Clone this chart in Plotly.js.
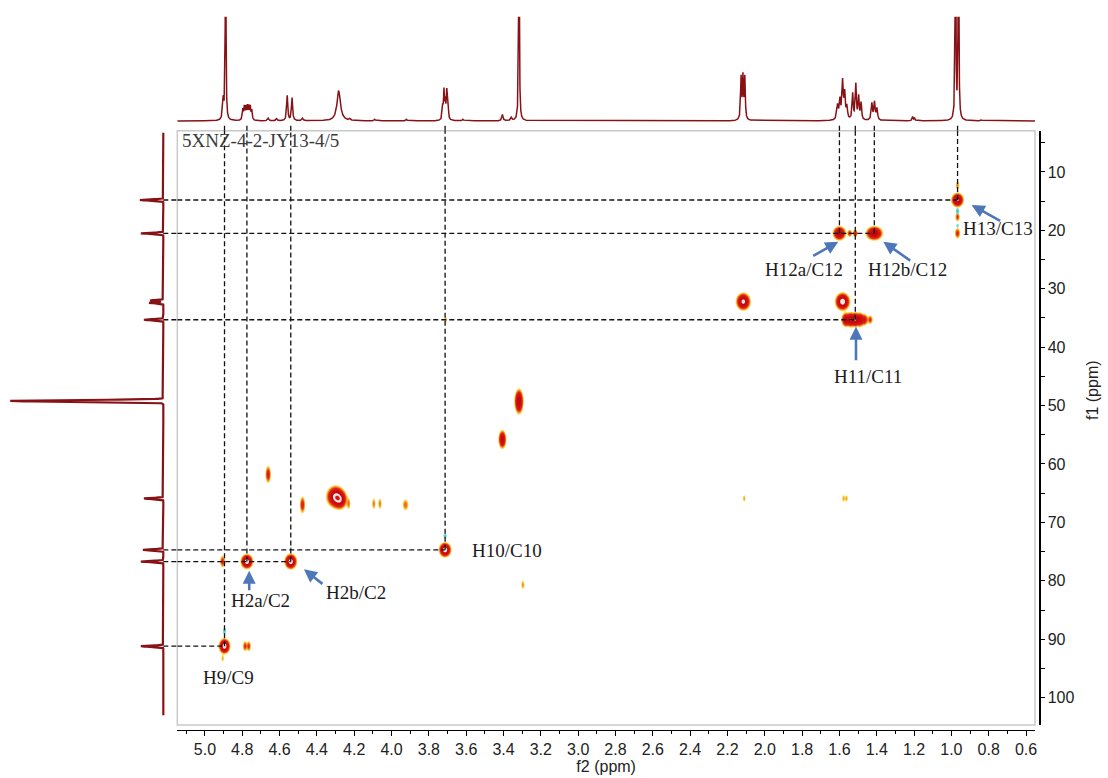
<!DOCTYPE html>
<html>
<head>
<meta charset="utf-8">
<script src="https://cdn.plot.ly/plotly-3.0.1.min.js"></script>
<style>
  html, body { margin: 0; padding: 0; background: #ffffff; }
  #chart { width: 1108px; height: 778px; }
</style>
</head>
<body>
<div id="chart"></div>
<script>
// ---------- 1H spectrum (f2 projection): line positions (ppm), heights, half-widths (ppm)
const protonShift  = [4.902, 4.889, 4.797, 4.789, 4.781, 4.773, 4.765, 4.757, 4.749, 4.661, 4.616,
                      4.559, 4.533, 4.477, 4.283, 4.224, 4.090, 3.920, 3.726, 3.719, 3.712, 3.704,
                      3.697, 3.617, 3.406, 3.358, 3.317, 2.127, 2.117, 2.107, 1.610, 1.597, 1.583,
                      1.572, 1.560, 1.529, 1.512, 1.497, 1.484, 1.426, 1.412, 1.399, 1.208, 1.198,
                      0.978, 0.962, 0.840];
const protonHeight = [20, 250, 10, 12, 11, 12, 12, 12, 9, 2.5, 2,
                      24, 22, 2.5, 29, 1.5, 1.5, 1.5, 12, 27, 16, 27,
                      12, 1.5, 6, 3, 250, 40, 40, 40, 14, 18, 36,
                      24, 12, 25, 34, 22, 16, 16, 17, 11, 4, 3,
                      250, 250, 1];
const protonWidth  = [0.004, 0.0018, 0.003, 0.003, 0.003, 0.003, 0.003, 0.003, 0.003, 0.004, 0.004,
                      0.0035, 0.0035, 0.004, 0.011, 0.004, 0.004, 0.004, 0.0028, 0.0028, 0.0028, 0.0028,
                      0.0028, 0.004, 0.004, 0.004, 0.002, 0.003, 0.003, 0.003, 0.005, 0.004, 0.004,
                      0.004, 0.004, 0.0035, 0.0035, 0.0035, 0.0035, 0.004, 0.004, 0.004, 0.003, 0.003,
                      0.002, 0.002, 0.004];

// ---------- 13C projection (f1): shifts (ppm), intensities, line widths (ppm)
const carbonShift  = [14.8, 20.5, 32.0, 32.4, 35.3, 49.2, 65.9, 74.7, 76.7, 91.2];
const carbonHeight = [23, 22, 13, 14, 19, 150, 19, 20, 22, 22];
const carbonWidth  = [0.1, 0.1, 0.09, 0.09, 0.1, 0.14, 0.1, 0.1, 0.1, 0.1];

// ---------- HSQC cross-peaks (positive phase): f2 (ppm), f1 (ppm), intensity, widths (ppm)
const peakH  = [4.895, 4.775, 4.540, 3.713, 4.300, 4.278, 0.967, 1.600, 1.545, 1.515, 1.413,
                1.583, 2.115, 1.565, 1.540, 1.515, 1.490, 1.465, 1.435, 3.317, 3.406,
                4.661, 4.477, 4.230, 4.095, 4.062, 3.925, 3.296, 4.905, 4.785, 4.765, 4.905,
                2.110, 1.578, 1.562, 3.710, 0.967, 0.967, 0.967];
const peakC  = [91.2, 76.7, 76.7, 74.7, 65.6, 66.1, 14.8, 20.5, 20.5, 20.5, 20.5,
                32.2, 32.2, 35.3, 35.3, 35.3, 35.3, 35.3, 35.3, 49.3, 55.8,
                61.8, 67.0, 66.8, 66.8, 66.8, 67.0, 80.7, 76.7, 91.2, 91.2, 93.3,
                65.9, 65.9, 65.9, 35.3, 12.3, 17.7, 20.5];
const peakI  = [12, 12, 12, 12, 10, 8, 9, 8, 2, 2.5, 8,
                12, 10, 6, 8, 8, 6, 2.5, 1.5, 8, 6,
                2.2, 2.0, 0.9, 0.9, 0.9, 1.0, 0.8, 1.8, 1.5, 1.5, 0.6,
                0.7, 0.7, 0.7, 0.7, 0.9, 1.5, 1.8];
const peakWH = [0.0115, 0.0125, 0.0125, 0.0125, 0.019, 0.016, 0.013, 0.014, 0.006, 0.006, 0.018,
                0.015, 0.015, 0.010, 0.010, 0.010, 0.010, 0.009, 0.007, 0.0095, 0.0085,
                0.007, 0.007, 0.0055, 0.0055, 0.0055, 0.009, 0.0055, 0.007, 0.006, 0.006, 0.005,
                0.0045, 0.0045, 0.0045, 0.0045, 0.006, 0.006, 0.007];
const peakWC = [0.50, 0.48, 0.50, 0.48, 0.72, 0.66, 0.48, 0.48, 0.3, 0.3, 0.48,
                0.58, 0.58, 0.50, 0.50, 0.50, 0.50, 0.45, 0.38, 0.85, 0.65,
                0.70, 0.70, 0.55, 0.55, 0.55, 0.55, 0.45, 0.50, 0.45, 0.45, 0.40,
                0.38, 0.38, 0.38, 0.38, 0.40, 0.40, 0.45];

// ---------- HSQC cross-peaks (negative phase)
const negH  = [4.895, 3.713, 4.540, 0.967, 0.967];
const negC  = [88.6, 72.3, 74.5, 16.7, 19.2];
const negI  = [0.8, 0.8, 0.5, 0.9, 0.5];
const negWH = [0.006, 0.006, 0.005, 0.006, 0.006];
const negWC = [0.35, 0.30, 0.30, 0.35, 0.30];

// ---------- assignments
const assignLabel = ['H9/C9', 'H2a/C2', 'H2b/C2', 'H10/C10', 'H12a/C12', 'H11/C11', 'H12b/C12', 'H13/C13'];
const assignH     = [4.895, 4.775, 4.540, 3.713, 1.600, 1.515, 1.413, 0.967];
const assignC     = [91.2, 76.7, 76.7, 74.7, 20.5, 35.3, 20.5, 14.8];

const sampleName = '5XNZ-4-2-JY13-4/5';

// ---------- axis ranges
const f2Range = [5.148, 0.552];
const f1Range = [104.69, 2.93];

// ---------- label placement (pixels from the assigned peak: right, down)
const labelOffset = {
  'H9/C9':    [4, 31],
  'H2a/C2':   [14, 38.5],
  'H2b/C2':   [65.5, 31],
  'H10/C10':  [62, 1],
  'H12a/C12': [-35, 36],
  'H11/C11':  [13, 57],
  'H12b/C12': [33, 35.7],
  'H13/C13':  [40, 28]
};
// arrow head and tail (pixels from the assigned peak: right, down)
const arrowPath = {
  'H2a/C2':   [2.3, 9.2, 2.3, 30.2],
  'H2b/C2':   [13.2, 7.8, 33.2, 23.5],
  'H12a/C12': [-1.1, 8.4, -27.7, 23.4],
  'H11/C11':  [0.7, 6.9, 0.7, 41.9],
  'H12b/C12': [9, 8.4, 37.4, 28.4],
  'H13/C13':  [14.1, 5, 44.1, 21.7]
};

// ---------- line shapes
function lorentzSum(grid, pos, hgt, wid) {
  return grid.map(v => {
    let s = 0;
    for (let k = 0; k < pos.length; k++) {
      const d = (v - pos[k]) / wid[k];
      s += hgt[k] / (1 + d * d);
    }
    return s;
  });
}
function gaussSum(grid, pos, hgt, wid) {
  return grid.map(v => {
    let s = 0;
    for (let k = 0; k < pos.length; k++) {
      const d = (v - pos[k]) / wid[k];
      s += hgt[k] * Math.exp(-0.5 * d * d);
    }
    return s;
  });
}

// 1H trace
const hGrid = [];
for (let i = 0; ; i++) {
  const v = f2Range[1] + i * 0.0005;
  if (v > f2Range[0]) break;
  hGrid.push(+v.toFixed(4));
}
const hSpec = lorentzSum(hGrid, protonShift, protonHeight, protonWidth);

// 13C projection trace
const cGrid = [];
for (let i = 0; ; i++) {
  const v = 3.3 + i * 0.02;
  if (v > 103) break;
  cGrid.push(+v.toFixed(3));
}
const cSpec = gaussSum(cGrid, carbonShift, carbonHeight, carbonWidth);

// 2D grid for the contour map
const gx = [], gy = [];
for (let i = 0; ; i++) { const v = f2Range[1] + i * 0.005; if (v > f2Range[0]) break; gx.push(+v.toFixed(4)); }
for (let j = 0; ; j++) { const v = f1Range[1] + j * 0.2; if (v > f1Range[0]) break; gy.push(+v.toFixed(3)); }

function gaussMap(ph, pc, pi, wh, wc) {
  const z = gy.map(() => new Float64Array(gx.length));
  for (let k = 0; k < ph.length; k++) {
    const i0 = Math.max(0, Math.floor((ph[k] - 5 * wh[k] - gx[0]) / 0.005));
    const i1 = Math.min(gx.length - 1, Math.ceil((ph[k] + 5 * wh[k] - gx[0]) / 0.005));
    const j0 = Math.max(0, Math.floor((pc[k] - 5 * wc[k] - gy[0]) / 0.2));
    const j1 = Math.min(gy.length - 1, Math.ceil((pc[k] + 5 * wc[k] - gy[0]) / 0.2));
    for (let j = j0; j <= j1; j++) {
      const dy = (gy[j] - pc[k]) / wc[k];
      for (let i = i0; i <= i1; i++) {
        const dx = (gx[i] - ph[k]) / wh[k];
        z[j][i] += pi[k] * Math.exp(-0.5 * (dx * dx + dy * dy));
      }
    }
  }
  return z.map(row => Array.from(row, v => Math.log(Math.max(v, 1e-4))));
}
const zPos = gaussMap(peakH, peakC, peakI, peakWH, peakWC);
const zNeg = gaussMap(negH, negC, negI, negWH, negWC);

// contour levels in ln(intensity)
const lvStart = Math.log(0.22), lvSize = 0.4, nLevels = 12;
const bandColors = [
  'rgba(255,255,255,0)', 'rgb(250,230,115)', 'rgb(248,204,75)', 'rgb(244,160,48)',
  'rgb(236,100,34)', 'rgb(224,42,24)', 'rgb(220,26,20)', 'rgb(214,20,18)',
  'rgb(202,12,14)', 'rgb(196,10,12)', 'rgb(255,228,228)', 'rgb(210,22,20)', 'rgb(255,255,255)'
];
const posScale = bandColors.map((c, k) => [k / nLevels, c]);

const negColors = ['rgba(255,255,255,0)', 'rgb(125,215,205)', 'rgb(70,190,160)'];
const negScale = negColors.map((c, k) => [k / 2, c]);

const traces = [
  {
    type: 'contour', x: gx, y: gy, z: zPos, xaxis: 'x', yaxis: 'y',
    autocontour: false,
    contours: { start: lvStart, end: lvStart + (nLevels - 1) * lvSize, size: lvSize, coloring: 'fill', showlines: false },
    colorscale: posScale, showscale: false, hoverinfo: 'skip', line: { width: 0 }
  },
  {
    type: 'contour', x: gx, y: gy, z: zNeg, xaxis: 'x', yaxis: 'y',
    autocontour: false,
    contours: { start: Math.log(0.25), end: Math.log(0.25) + 1, size: 1, coloring: 'fill', showlines: false },
    colorscale: negScale, showscale: false, hoverinfo: 'skip', line: { width: 0 }
  },
  {
    type: 'scatter', mode: 'lines', x: hGrid, y: hSpec, xaxis: 'x', yaxis: 'y2',
    line: { color: 'rgb(135,18,22)', width: 1.5 }, hoverinfo: 'skip'
  },
  {
    type: 'scatter', mode: 'lines', x: cSpec, y: cGrid, xaxis: 'x3', yaxis: 'y',
    line: { color: 'rgb(135,18,22)', width: 2.2 }, hoverinfo: 'skip'
  }
];

// dashed guide lines from the assigned peaks
const dash = { color: '#111111', width: 1.3, dash: '5px,3px' };
const shapes = [
  { type: 'rect', xref: 'paper', yref: 'paper', x0: 0.16002, x1: 0.93412, y0: 0.06812, y1: 0.83201,
    line: { color: '#c9c9c9', width: 1.5 }, fillcolor: 'rgba(0,0,0,0)', layer: 'above' }
];
assignH.forEach((h, k) => {
  shapes.push({ type: 'line', xref: 'x', yref: 'y', x0: h, x1: h, y0: assignC[k], y1: f1Range[1], line: dash });
  shapes.push({ type: 'line', xref: 'x', yref: 'paper', x0: h, x1: h, y0: 0.83201, y1: 0.8419, line: dash });
});
const uniqueC = [...new Set(assignC)];
uniqueC.forEach(c => {
  const ends = assignH.filter((h, k) => assignC[k] === c);
  const hEnd = Math.min(...ends);
  shapes.push({ type: 'line', xref: 'x', yref: 'y', x0: f2Range[0], x1: hEnd, y0: c, y1: c, line: dash });
  shapes.push({ type: 'line', xref: 'x3', yref: 'y', x0: 0, x1: -13.7, y0: c, y1: c, line: dash });
});

const labelFont = { family: 'Liberation Serif, Times New Roman, serif', size: 19, color: '#1b1b1b' };
const tickFont = { family: 'Liberation Sans Narrow, Arial Narrow, Liberation Sans, Arial, sans-serif', size: 16, color: '#222222' };
const annotations = [];
assignLabel.forEach((lab, k) => {
  const off = labelOffset[lab];
  annotations.push({
    x: assignH[k], y: assignC[k], xref: 'x', yref: 'y', text: lab, showarrow: false,
    xshift: off[0], yshift: -off[1], xanchor: 'center', yanchor: 'middle', font: labelFont
  });
  const a = arrowPath[lab];
  if (a) {
    annotations.push({
      x: assignH[k], y: assignC[k], xref: 'x', yref: 'y', text: '', showarrow: true,
      xshift: a[0], yshift: -a[1], ax: a[2] - a[0], ay: a[3] - a[1], axref: 'pixel', ayref: 'pixel',
      arrowcolor: '#4d77b8', arrowwidth: 2.6, arrowhead: 2, arrowsize: 1, standoff: 0, startstandoff: 0
    });
  }
});
annotations.push({
  xref: 'paper', yref: 'paper', x: 180 / 1108, y: (778 - 140) / 778, xanchor: 'left', yanchor: 'middle',
  text: sampleName, showarrow: false,
  font: { family: 'Liberation Serif, Times New Roman, serif', size: 19, color: '#3a3a3a' }
});
// f1 axis title, drawn as rotated text beside the tick labels
annotations.push({
  xref: 'paper', yref: 'paper', x: 1093 / 1108, y: (778 - 390) / 778, xanchor: 'center', yanchor: 'middle',
  text: 'f1 (ppm)', textangle: -90, showarrow: false, font: tickFont
});

const layout = {
  width: 1108, height: 778,
  margin: { l: 0, r: 0, t: 0, b: 0 },
  paper_bgcolor: '#ffffff', plot_bgcolor: 'rgba(0,0,0,0)',
  showlegend: false,
  xaxis: {
    domain: [0.16002, 0.93412], range: f2Range, anchor: 'free', position: 0.0617,
    tickmode: 'linear', tick0: 0, dtick: 0.2, tickformat: '.1f',
    ticks: 'outside', ticklen: 5, tickwidth: 1, tickcolor: '#000',
    minor: { tick0: 0, dtick: 0.1, ticks: 'outside', ticklen: 3, tickcolor: '#000', showgrid: false },
    showline: true, linecolor: '#000', linewidth: 1.2,
    showgrid: false, zeroline: false, tickfont: tickFont,
    title: { text: 'f2 (ppm)', font: tickFont, standoff: 2 }
  },
  yaxis: {
    domain: [0.06812, 0.83201], range: f1Range, side: 'right', anchor: 'free', position: 0.938,
    tickmode: 'linear', tick0: 0, dtick: 10,
    ticks: 'outside', ticklen: 4, tickwidth: 1, tickcolor: '#000',
    minor: { tick0: 0, dtick: 5, ticks: 'outside', ticklen: 4, tickcolor: '#000', showgrid: false },
    showline: true, linecolor: '#000', linewidth: 1.2,
    showgrid: false, zeroline: false, tickfont: tickFont
  },
  yaxis2: {
    domain: [0.8419, 0.97853], range: [-2, 100], anchor: 'x', visible: false, fixedrange: true
  },
  xaxis3: {
    domain: [0, 0.16002], range: [160, -13.7], anchor: 'y', visible: false, fixedrange: true
  },
  shapes: shapes,
  annotations: annotations
};

Plotly.newPlot('chart', traces, layout, { staticPlot: true, displayModeBar: false });
</script>
</body>
</html>
